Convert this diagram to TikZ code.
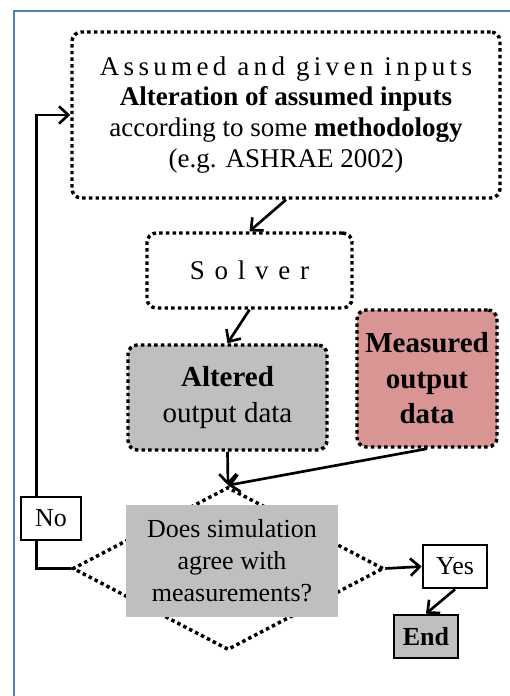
\documentclass[tikz,border=0pt]{standalone}
\usepackage{fontspec}
\setmainfont{Liberation Serif}
\newfontfamily\spacedfont[LetterSpace=16]{Liberation Serif}
\newfontfamily\solverfont[LetterSpace=11]{Liberation Serif}
\usepackage{tikz}
\usetikzlibrary{arrows.meta,calc,shapes.geometric}
\definecolor{frameblue}{HTML}{4F81BD}
\definecolor{boxgray}{HTML}{BFBFBF}
\definecolor{measred}{HTML}{D99594}

\begin{document}
\begin{tikzpicture}[x=0.75pt,y=0.75pt,yscale=-1,xscale=1,
    dotbox/.style={draw, line width=2.6pt, dash pattern=on 2.6pt off 2.4pt, rounded corners=7pt, align=center, inner sep=0pt},
    plainbox/.style={draw, line width=2pt, fill=white, inner sep=0pt, font=\fontsize{19.5}{24}\selectfont},
    flow/.style={line width=2pt, -{Straight Barb[length=7pt,width=13pt,line width=2pt]}}]
    \useasboundingbox (0,0) rectangle (510,696);

    %Frame
    \draw[frameblue, line width=2.2pt] (14,696) -- (14,11) -- (510,11);

    %Boxes (sizes in pt = px*0.75)
    \node[dotbox, minimum width=321pt, minimum height=124.5pt, font=\fontsize{20.25}{23.2}\selectfont] (inputs) at (286,115)
        {{\spacedfont Assumed and given inputs}\\ \textbf{Alteration of assumed inputs}\\ according to some \textbf{methodology}\\ (e.g. ASHRAE 2002)};
    \node[dotbox, minimum width=153.75pt, minimum height=56.25pt, font=\fontsize{20.25}{24}\selectfont] (solver) at (249.5,270.5)
        {\solverfont S o l v e r};
    \node[dotbox, fill=boxgray, minimum width=149.25pt, minimum height=78.75pt, font=\fontsize{21.75}{27}\selectfont] (altered) at (227.5,397.5)
        {\textbf{Altered}\\ output data};
    \node[dotbox, fill=measred, minimum width=105pt, minimum height=102.75pt, font=\fontsize{21.75}{26.6}\selectfont\bfseries] (measured) at (427,378.5)
        {Measured\\ output\\ data};

    %Decision
    \node[draw, diamond, line width=2.6pt, dash pattern=on 2.6pt off 2.4pt, minimum width=233.25pt, minimum height=122.25pt, inner sep=0pt] (check) at (228,568.5) {};
    \node[fill=boxgray, minimum width=159pt, minimum height=84pt, align=center, inner sep=0pt, font=\fontsize{19.5}{24}\selectfont] (question) at (232,561)
        {Does simulation\\ agree with\\ measurements?};

    %Arrows
    \draw[flow] (inputs.south) -- (solver.north);
    \draw[flow] (solver.south) -- (altered.north);
    \draw[flow] (altered.south) -- (check.north);
    \draw[flow] (measured.south) -- (check.north);
    \draw[flow] (check.west) -- ++(-34,0) |- (inputs.west);

    \node[plainbox, minimum width=45pt, minimum height=32.25pt] (no) at (51,518.5) {No};
    \node[plainbox, minimum width=48pt, minimum height=32.25pt] (yes) at (455,566.5) {Yes};
    \node[plainbox, fill=boxgray, minimum width=48pt, minimum height=32.25pt, font=\fontsize{19.5}{24}\selectfont\bfseries] (end) at (426,636.5) {End};

    \draw[flow] (check.east) -- (yes.west);
    \draw[flow] (yes.south) -- (end.north);
\end{tikzpicture}
\end{document}
